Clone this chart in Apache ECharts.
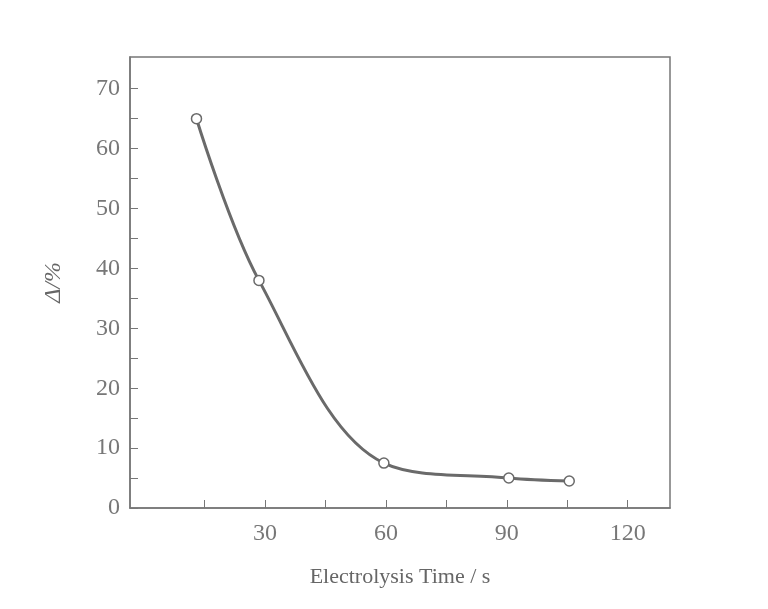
<!DOCTYPE html><html><head><meta charset="utf-8">
<script src="https://cdn.jsdelivr.net/npm/echarts@6/dist/echarts.min.js"></script>
<style>html,body{margin:0;background:#fff}#c{width:768px;height:609px}</style></head><body><div id="c"></div>
<script>
const times=[13,28.5,59.5,90.5,105.5];
const delta=[65,38,7.5,5,4.5];
const xTicks=[30,60,90,120];
const yTicks=[0,10,20,30,40,50,60,70];
const c=echarts.init(document.getElementById('c'));
const ff='Liberation Serif';
c.setOption({
 backgroundColor:'#fff',
 grid:{left:130,right:98,top:57,bottom:101,show:true,borderColor:'#777',borderWidth:1.5},
 xAxis:{type:'value',min:-3.5,max:130.5,
  name:'Electrolysis Time / s',nameLocation:'middle',nameGap:58,
  nameTextStyle:{fontFamily:ff,fontSize:22,color:'#666'},
  axisLine:{onZero:false,lineStyle:{color:'#777',width:1.5}},
  axisTick:{inside:true,length:8,customValues:[15,30,45,60,75,90,105,120],lineStyle:{color:'#777'}},
  axisLabel:{customValues:xTicks,fontFamily:ff,fontSize:24,color:'#777',margin:14},
  splitLine:{show:false}},
 yAxis:{type:'value',min:0,max:75.3,
  name:'Δ/%',nameLocation:'middle',nameGap:64,nameRotate:90,
  nameTextStyle:{fontFamily:ff,fontSize:24,color:'#666',fontStyle:'italic'},
  axisLine:{onZero:false,lineStyle:{color:'#777',width:1.5}},
  axisTick:{inside:true,length:8,customValues:[0,5,10,15,20,25,30,35,40,45,50,55,60,65,70],lineStyle:{color:'#777'}},
  axisLabel:{customValues:yTicks,fontFamily:ff,fontSize:24,color:'#777',margin:10},
  splitLine:{show:false}},
 series:[{type:'line',smooth:0.35,data:times.map((t,i)=>[t,delta[i]]),
  symbol:'circle',symbolSize:10,
  lineStyle:{color:'#6a6a6a',width:3},
  itemStyle:{color:'#fff',borderColor:'#6a6a6a',borderWidth:1.5}}]
});
</script></body></html>
